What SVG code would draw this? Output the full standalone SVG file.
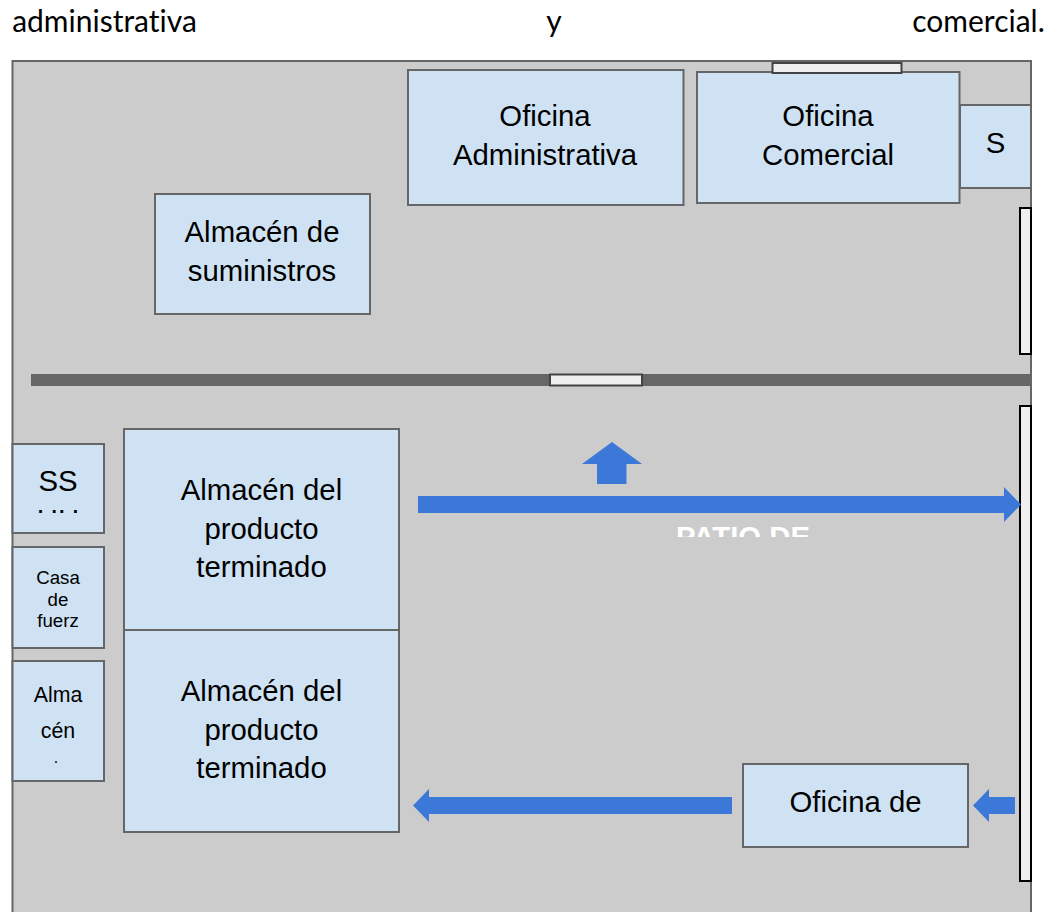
<svg xmlns="http://www.w3.org/2000/svg" width="1057" height="912" viewBox="0 0 1057 912">
<style>
.room{fill:#cfe2f3;stroke:#666666;stroke-width:2}
.door{fill:#efefef;stroke:#434343;stroke-width:2}
.gate{fill:#efefef;stroke:#000000;stroke-width:2}
.arrow{fill:#3c78d8}
text{font-family:"Liberation Sans",Arial,sans-serif;fill:#000000;text-anchor:middle}
.l{font-size:29.33px}
.m{font-size:21.33px}
.s{font-size:18.67px}
.head{font-family:Lato,"Open Sans",sans-serif;font-size:30px;fill:#000000;font-variant-ligatures:none}
</style>
<defs>
<clipPath id="clipPatio"><rect x="600" y="520" width="300" height="17"/></clipPath>
<clipPath id="clipSS"><rect x="13" y="445" width="90" height="68"/></clipPath>
</defs>
<rect width="1057" height="912" fill="#ffffff"/>
<text class="head" x="104.500" y="32">administrativa</text>
<text class="head" x="554" y="32">y</text>
<text class="head" x="978.500" y="32">comercial.</text>
<rect id="plant" x="12.500" y="61" width="1018.500" height="860" fill="#cccccc" stroke="#666666" stroke-width="2"/>
<g id="office-admin"><rect class="room" x="408" y="70" width="275.500" height="135"/><text class="l" x="545" y="126">Oficina</text><text class="l" x="545" y="165">Administrativa</text></g>
<g id="office-commercial"><rect class="room" x="697" y="72" width="262.500" height="131"/><text class="l" x="828" y="126">Oficina</text><text class="l" x="828" y="165">Comercial</text></g>
<g id="s-room"><rect class="room" x="960" y="105" width="71" height="83"/><text class="l" x="995.500" y="153">S</text></g>
<g id="door-top"><rect class="door" x="772.500" y="63" width="129" height="10"/></g>
<g id="supplies"><rect class="room" x="155" y="194" width="215" height="120"/><text class="l" x="262" y="242">Almacén de</text><text class="l" x="262" y="281">suministros</text></g>
<g id="wall"><rect x="31" y="374" width="1000" height="12" fill="#666666"/></g>
<g id="door-wall"><rect class="door" x="550" y="374.500" width="92" height="11"/></g>
<g id="gate-1"><rect class="gate" x="1020" y="208" width="11" height="146"/></g>
<g id="gate-2"><rect class="gate" x="1020" y="406" width="11" height="475"/></g>
<g id="ss"><rect class="room" x="12.500" y="444" width="91.500" height="89"/><g clip-path="url(#clipSS)"><text class="l" x="58" y="491">SS</text><text class="l" x="58" y="530">HH</text></g></g>
<g id="power"><rect class="room" x="12.500" y="547" width="91.500" height="101"/><text class="s" x="58" y="584">Casa</text><text class="s" x="58" y="606">de</text><text class="s" x="58" y="627">fuerz</text></g>
<g id="store"><rect class="room" x="12.500" y="661" width="91.500" height="120"/><text class="m" x="58" y="702">Alma</text><text class="m" x="58" y="738">cén</text><text x="56" y="763" style="font-size:16px">.</text></g>
<g id="finished-1"><rect class="room" x="124" y="429" width="275" height="201"/><text class="l" x="261.500" y="500">Almacén del</text><text class="l" x="261.500" y="539">producto</text><text class="l" x="261.500" y="577">terminado</text></g>
<g id="finished-2"><rect class="room" x="124" y="630" width="275" height="202"/><text class="l" x="261.500" y="701">Almacén del</text><text class="l" x="261.500" y="740">producto</text><text class="l" x="261.500" y="778">terminado</text></g>
<g id="office-de"><rect class="room" x="743" y="764" width="225" height="83"/><text class="l" x="855.500" y="812">Oficina de</text></g>
<g id="patio"><text class="l" x="743" y="547" style="fill:#ffffff;font-weight:bold" clip-path="url(#clipPatio)">PATIO DE</text></g>
<g id="connectors">
<polygon class="arrow" points="612,442 642,464 626.500,464 626.500,484 597,484 597,464 582,464"/>
<polygon class="arrow" points="418,496 1004,496 1004,487 1021,504.500 1004,522 1004,513 418,513"/>
<polygon class="arrow" points="732,797 429,797 429,789 413,805.500 429,822 429,814 732,814"/>
<polygon class="arrow" points="1015,797 989,797 989,789 973,805.500 989,822 989,814 1015,814"/>
</g>
</svg>
